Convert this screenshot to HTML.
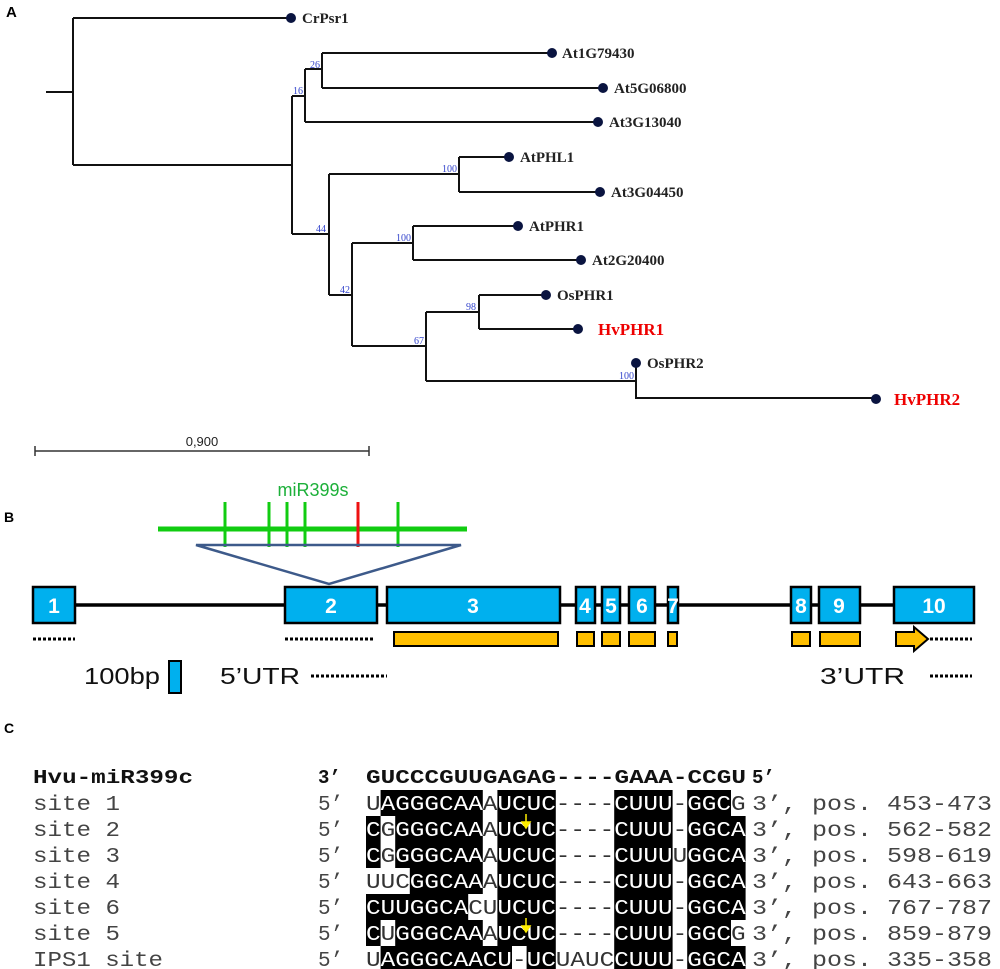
<!DOCTYPE html>
<html><head><meta charset="utf-8"><style>html,body{margin:0;padding:0;background:#fff}svg{display:block}</style></head><body>
<svg width="1000" height="969" viewBox="0 0 1000 969" xmlns="http://www.w3.org/2000/svg">
<!-- Panel A -->
<text x="6" y="17" font-family="Liberation Sans,sans-serif" font-weight="bold" font-size="15">A</text>
<g stroke="#111" stroke-width="2" fill="none">
<path d="M46 92H73M73 18V165M73 18H291M73 165H292"/>
<path d="M292 96V234M292 96H305M305 69V122M305 69H322M322 53V88M322 53H552M322 88H603M305 122H598"/>
<path d="M292 234H329M329 174V295M329 174H459M459 157V192M459 157H509M459 192H600"/>
<path d="M329 295H352M352 243V346M352 243H413M413 226V260M413 226H518M413 260H581"/>
<path d="M352 346H426M426 312V381M426 312H479M479 295V329M479 295H546M479 329H578"/>
<path d="M426 381H636M636 363V398H876"/>
</g>
<g fill="#0a1440">
<circle cx="291" cy="18" r="5"/><circle cx="552" cy="53" r="5"/><circle cx="603" cy="88" r="5"/><circle cx="598" cy="122" r="5"/>
<circle cx="509" cy="157" r="5"/><circle cx="600" cy="192" r="5"/><circle cx="518" cy="226" r="5"/><circle cx="581" cy="260" r="5"/>
<circle cx="546" cy="295" r="5"/><circle cx="578" cy="329" r="5"/><circle cx="636" cy="363" r="5"/><circle cx="876" cy="399" r="5"/>
</g>
<g font-family="Liberation Serif,serif" font-weight="bold" font-size="15" fill="#222">
<text x="302" y="23">CrPsr1</text><text x="562" y="58">At1G79430</text><text x="614" y="93">At5G06800</text><text x="609" y="127">At3G13040</text>
<text x="520" y="162">AtPHL1</text><text x="611" y="197">At3G04450</text><text x="529" y="231">AtPHR1</text><text x="592" y="265">At2G20400</text>
<text x="557" y="300">OsPHR1</text><text x="647" y="368">OsPHR2</text>
<text x="598" y="335" fill="#e00" font-size="17">HvPHR1</text><text x="894" y="405" fill="#e00" font-size="17">HvPHR2</text>
</g>
<g font-family="Liberation Serif,serif" font-size="10" fill="#3344cc">
<text x="310" y="68">26</text><text x="293" y="94">16</text><text x="442" y="172">100</text><text x="316" y="232">44</text>
<text x="396" y="241">100</text><text x="340" y="293">42</text><text x="466" y="310">98</text><text x="414" y="344">67</text><text x="619" y="379">100</text>
</g>
<path d="M35 451H369M35 446V456M369 446V456" stroke="#333" stroke-width="1.5"/>
<text x="202" y="446" font-family="Liberation Sans,sans-serif" font-size="13" text-anchor="middle" fill="#222">0,900</text>
<!-- Panel B -->
<text x="4" y="522" font-family="Liberation Sans,sans-serif" font-weight="bold" font-size="14">B</text>
<text x="313" y="496" font-family="Liberation Sans,sans-serif" font-size="18" fill="#1db03a" text-anchor="middle">miR399s</text>
<path d="M158 529H467" stroke="#11cc11" stroke-width="5"/>
<g stroke="#11cc11" stroke-width="3"><path d="M225 502V547M269 502V547M287 502V547M305 502V547M398 502V547"/></g>
<path d="M358 502V547" stroke="#ee1111" stroke-width="3"/>
<path d="M196 545H461L329 584Z" fill="none" stroke="#3d5a8a" stroke-width="2.5"/>
<path d="M75 605H972" stroke="#000" stroke-width="3.5"/>
<g fill="#00b0ee" stroke="#000" stroke-width="2.5">
<rect x="33" y="587" width="42" height="36"/><rect x="285" y="587" width="92" height="36"/><rect x="387" y="587" width="173" height="36"/>
<rect x="576" y="587" width="19" height="36"/><rect x="602" y="587" width="18" height="36"/><rect x="629" y="587" width="26" height="36"/>
<rect x="668" y="587" width="10" height="36"/><rect x="791" y="587" width="20" height="36"/><rect x="819" y="587" width="41" height="36"/>
<rect x="894" y="587" width="80" height="36"/>
</g>
<g font-family="Liberation Sans,sans-serif" font-weight="bold" font-size="21" fill="#fff" text-anchor="middle">
<text x="54" y="613">1</text><text x="331" y="613">2</text><text x="473" y="613">3</text><text x="585" y="613">4</text><text x="611" y="613">5</text>
<text x="642" y="613">6</text><text x="673" y="613">7</text><text x="801" y="613">8</text><text x="839" y="613">9</text><text x="934" y="613">10</text>
</g>
<g fill="#ffbf00" stroke="#000" stroke-width="2">
<rect x="394" y="632" width="164" height="14"/><rect x="577" y="632" width="17" height="14"/><rect x="602" y="632" width="18" height="14"/>
<rect x="629" y="632" width="26" height="14"/><rect x="668" y="632" width="9" height="14"/><rect x="792" y="632" width="18" height="14"/>
<rect x="820" y="632" width="40" height="14"/>
<path d="M896 632H914V627L928 639L914 651V646H896Z"/>
</g>
<g stroke="#000" stroke-width="3" stroke-dasharray="3,2">
<path d="M33 639H75M285 639H375M930 639H972M311 676H387M930 676H972"/>
</g>
<text x="84" y="684" font-family="Liberation Sans,sans-serif" font-size="23" fill="#111" textLength="76" lengthAdjust="spacingAndGlyphs">100bp</text>
<rect x="169" y="661" width="12" height="32" fill="#00b0ee" stroke="#000" stroke-width="2"/>
<text x="220" y="684" font-family="Liberation Sans,sans-serif" font-size="23" fill="#111" textLength="80" lengthAdjust="spacingAndGlyphs">5’UTR</text>
<text x="820" y="684" font-family="Liberation Sans,sans-serif" font-size="23" fill="#111" textLength="85" lengthAdjust="spacingAndGlyphs">3’UTR</text>
<!-- Panel C -->
<text x="4" y="733" font-family="Liberation Sans,sans-serif" font-weight="bold" font-size="14">C</text>
<defs><clipPath id="cb">
<rect x="380.6" y="790" width="102.2" height="26"/><rect x="497.4" y="790" width="58.4" height="26"/><rect x="614.2" y="790" width="58.4" height="26"/><rect x="687.2" y="790" width="43.8" height="26"/>
<rect x="366" y="816" width="14.6" height="52"/><rect x="395.2" y="816" width="87.6" height="52"/><rect x="497.4" y="816" width="58.4" height="52"/><rect x="614.2" y="816" width="58.4" height="52"/><rect x="687.2" y="816" width="58.4" height="52"/>
<rect x="409.8" y="868" width="73" height="26"/><rect x="497.4" y="868" width="58.4" height="26"/><rect x="614.2" y="868" width="58.4" height="26"/><rect x="687.2" y="868" width="58.4" height="26"/>
<rect x="366" y="894" width="102.2" height="26"/><rect x="497.4" y="894" width="58.4" height="26"/><rect x="614.2" y="894" width="58.4" height="26"/><rect x="687.2" y="894" width="58.4" height="26"/>
<rect x="366" y="920" width="14.6" height="26"/><rect x="395.2" y="920" width="87.6" height="26"/><rect x="497.4" y="920" width="58.4" height="26"/><rect x="614.2" y="920" width="58.4" height="26"/><rect x="687.2" y="920" width="43.8" height="26"/>
<rect x="380.6" y="946" width="131.4" height="23"/><rect x="526.6" y="946" width="29.2" height="23"/><rect x="614.2" y="946" width="58.4" height="23"/><rect x="687.2" y="946" width="58.4" height="23"/>
</clipPath></defs>
<rect x="0" y="780" width="1000" height="189" fill="#000" clip-path="url(#cb)"/>
<g font-family="Liberation Mono,monospace" font-size="19" font-weight="bold" fill="#111">
<text x="33" y="783" textLength="160" lengthAdjust="spacingAndGlyphs">Hvu-miR399c</text>
<text x="318" y="783">3’</text>
<text x="366" y="783" textLength="380" lengthAdjust="spacingAndGlyphs">GUCCCGUUGAGAG----GAAA-CCGU</text>
<text x="752" y="783">5’</text>
</g>
<g font-family="Liberation Mono,monospace" font-size="21" fill="#444">
<text x="33" y="810" textLength="87" lengthAdjust="spacingAndGlyphs">site 1</text>
<text x="33" y="836" textLength="87" lengthAdjust="spacingAndGlyphs">site 2</text>
<text x="33" y="862" textLength="87" lengthAdjust="spacingAndGlyphs">site 3</text>
<text x="33" y="888" textLength="87" lengthAdjust="spacingAndGlyphs">site 4</text>
<text x="33" y="914" textLength="87" lengthAdjust="spacingAndGlyphs">site 6</text>
<text x="33" y="940" textLength="87" lengthAdjust="spacingAndGlyphs">site 5</text>
<text x="33" y="966" textLength="130" lengthAdjust="spacingAndGlyphs">IPS1 site</text>
<text x="318" y="810">5’</text><text x="318" y="836">5’</text><text x="318" y="862">5’</text><text x="318" y="888">5’</text><text x="318" y="914">5’</text><text x="318" y="940">5’</text><text x="318" y="966">5’</text>
<text x="752" y="810" textLength="240" lengthAdjust="spacingAndGlyphs">3’, pos. 453-473</text>
<text x="752" y="836" textLength="240" lengthAdjust="spacingAndGlyphs">3’, pos. 562-582</text>
<text x="752" y="862" textLength="240" lengthAdjust="spacingAndGlyphs">3’, pos. 598-619</text>
<text x="752" y="888" textLength="240" lengthAdjust="spacingAndGlyphs">3’, pos. 643-663</text>
<text x="752" y="914" textLength="240" lengthAdjust="spacingAndGlyphs">3’, pos. 767-787</text>
<text x="752" y="940" textLength="240" lengthAdjust="spacingAndGlyphs">3’, pos. 859-879</text>
<text x="752" y="966" textLength="240" lengthAdjust="spacingAndGlyphs">3’, pos. 335-358</text>
</g>
<g font-family="Liberation Mono,monospace" font-size="21">
<g fill="#333">
<text x="366" y="810" textLength="379.6" lengthAdjust="spacingAndGlyphs">UAGGGCAAAUCUC----CUUU-GGCG</text>
<text x="366" y="836" textLength="379.6" lengthAdjust="spacingAndGlyphs">CGGGGCAAAUCUC----CUUU-GGCA</text>
<text x="366" y="862" textLength="379.6" lengthAdjust="spacingAndGlyphs">CGGGGCAAAUCUC----CUUUUGGCA</text>
<text x="366" y="888" textLength="379.6" lengthAdjust="spacingAndGlyphs">UUCGGCAAAUCUC----CUUU-GGCA</text>
<text x="366" y="914" textLength="379.6" lengthAdjust="spacingAndGlyphs">CUUGGCACUUCUC----CUUU-GGCA</text>
<text x="366" y="940" textLength="379.6" lengthAdjust="spacingAndGlyphs">CUGGGCAAAUCUC----CUUU-GGCG</text>
<text x="366" y="966" textLength="379.6" lengthAdjust="spacingAndGlyphs">UAGGGCAACU-UCUAUCCUUU-GGCA</text>
</g>
<g fill="#fff" clip-path="url(#cb)">
<text x="366" y="810" textLength="379.6" lengthAdjust="spacingAndGlyphs">UAGGGCAAAUCUC----CUUU-GGCG</text>
<text x="366" y="836" textLength="379.6" lengthAdjust="spacingAndGlyphs">CGGGGCAAAUCUC----CUUU-GGCA</text>
<text x="366" y="862" textLength="379.6" lengthAdjust="spacingAndGlyphs">CGGGGCAAAUCUC----CUUUUGGCA</text>
<text x="366" y="888" textLength="379.6" lengthAdjust="spacingAndGlyphs">UUCGGCAAAUCUC----CUUU-GGCA</text>
<text x="366" y="914" textLength="379.6" lengthAdjust="spacingAndGlyphs">CUUGGCACUUCUC----CUUU-GGCA</text>
<text x="366" y="940" textLength="379.6" lengthAdjust="spacingAndGlyphs">CUGGGCAAAUCUC----CUUU-GGCG</text>
<text x="366" y="966" textLength="379.6" lengthAdjust="spacingAndGlyphs">UAGGGCAACU-UCUAUCCUUU-GGCA</text>
</g>
</g>
<g stroke="#ffee00" stroke-width="1.5" fill="#ffee00">
<path d="M526 814V824"/><path d="M522 822L526 828L530 822Z"/>
<path d="M526 918V928"/><path d="M522 926L526 932L530 926Z"/>
</g>
</svg>
</body></html>
